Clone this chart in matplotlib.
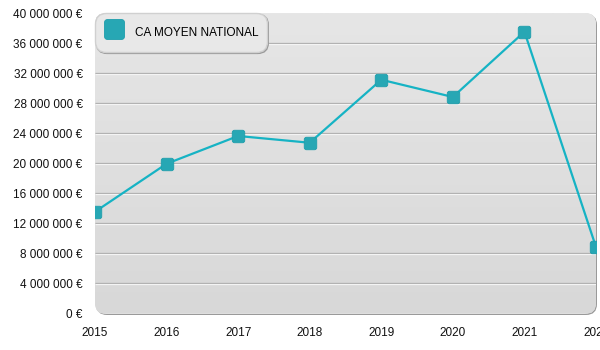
import numpy as np
import matplotlib
matplotlib.use("Agg")
import matplotlib.pyplot as plt
from matplotlib.patches import FancyBboxPatch
from matplotlib.colors import LinearSegmentedColormap
from matplotlib.lines import Line2D
from matplotlib.transforms import offset_copy, IdentityTransform

plt.rcParams['font.family'] = ['Liberation Sans', 'DejaVu Sans']

years = [2015, 2016, 2017, 2018, 2019, 2020, 2021, 2022]
ca_moyen = [13.5e6, 19.9e6, 23.6e6, 22.7e6, 31.1e6, 28.8e6, 37.5e6, 8.8e6]
series_label = 'CA MOYEN NATIONAL'
y_ticks = np.arange(0, 40e6 + 1, 4e6)

LINE = '#16b3c4'
MARK = '#27a7b4'

# square marker with softened corners
rsq = FancyBboxPatch((-0.5, -0.5), 1, 1,
                     boxstyle='round,pad=0,rounding_size=0.18').get_path()

fig = plt.figure(figsize=(6, 3.5), dpi=100)
ax = fig.add_axes([95 / 600, 1 - 313 / 350, 501 / 600, 300 / 350])
ax.patch.set_visible(False)
for s in ax.spines.values():
    s.set_visible(False)

# rounded grey panel (pixel coordinates) with a faint shadow
x0, x1, yb, yt = 95, 596, 350 - 314, 350 - 13
px = IdentityTransform()
shadow = FancyBboxPatch((x0 + 1, yb - 1), x1 - x0, yt - yb,
                        boxstyle='round,pad=0,rounding_size=11',
                        transform=px, facecolor='#9a9a9a', edgecolor='none',
                        zorder=0, clip_on=False)
panel = FancyBboxPatch((x0, yb), x1 - x0, yt - yb,
                       boxstyle='round,pad=0,rounding_size=11',
                       transform=px, facecolor='#dedede', edgecolor='none',
                       zorder=0.5, clip_on=False)
ax.add_artist(shadow)
ax.add_artist(panel)
grad = np.linspace(0, 1, 256).reshape(-1, 1)
cmap = LinearSegmentedColormap.from_list('bg', ['#d8d8d8', '#e6e6e6'])
im = ax.imshow(grad, extent=(2015, 2022, -0.2e6, 40e6), origin='lower',
               aspect='auto', cmap=cmap, zorder=0.6)
im.set_clip_path(panel)
ax.set_xlim(2015, 2022)
ax.set_ylim(0, 40e6)

# embossed grid lines
below = offset_copy(ax.transData, fig=fig, y=-1, units='dots')
for yv in y_ticks[1:-1]:
    ax.plot([2015, 2022], [yv, yv], color='#a9a9a9', lw=0.9, zorder=1,
            solid_capstyle='butt')
    ax.plot([2015, 2022], [yv, yv], color='#f4f4f4', lw=0.9, zorder=1,
            transform=below, solid_capstyle='butt')

ax.plot(years, ca_moyen, color=LINE, lw=1.6, zorder=3)
ax.plot(years, ca_moyen, ls='none', marker=rsq, ms=9, mfc=MARK,
        mec='#1f9eac', mew=0.6, zorder=4)

ax.set_xticks(years)
ax.set_yticks(y_ticks)
ax.set_yticklabels([f'{int(v):,} €'.replace(',', ' ') for v in y_ticks])
ax.tick_params(length=0, labelsize=8.5, colors='#111111')
ax.tick_params(axis='y', pad=9)
ax.tick_params(axis='x', pad=10)

handle = Line2D([], [], ls='none', marker=rsq, ms=14.5, mfc=MARK,
                mec='#1f9eac', mew=0.6)
leg = ax.legend([handle], [series_label], loc='upper left',
                bbox_to_anchor=(0, 1), fontsize=8.5, frameon=True,
                fancybox=True,
                shadow={'color': '#9a9a9a', 'alpha': 1.0, 'ox': 1, 'oy': -1},
                borderpad=0.75, handlelength=1.7, handleheight=2.4,
                handletextpad=0.9, borderaxespad=0)
leg.get_frame().set_facecolor('#e8e8e8')
leg.get_frame().set_edgecolor('#d0d0d0')
leg.get_frame().set_alpha(1)
leg.get_frame().set_boxstyle('round,pad=0,rounding_size=0.9')
leg.set_zorder(5)

fig.savefig('out.png', dpi=100, facecolor='white')
